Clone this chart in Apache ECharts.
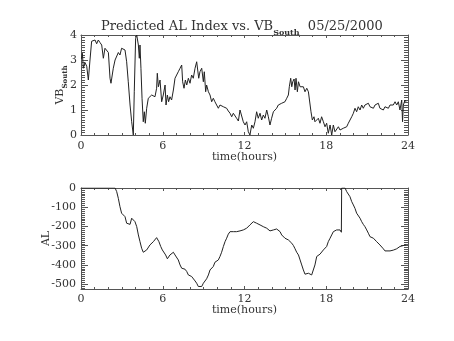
<!DOCTYPE html>
<html>
<head>
<meta charset="utf-8">
<script src="https://cdn.jsdelivr.net/npm/echarts@6/dist/echarts.min.js"></script>
<style>
html,body{margin:0;padding:0;background:#fff;}
#chart{width:454px;height:341px;}
</style>
</head>
<body>
<div id="chart"></div>
<script>
// ---- data ----
var xTicks = [0, 6, 12, 18, 24];
var vbTicks = [0, 1, 2, 3, 4];
var alTicks = [0, -100, -200, -300, -400, -500];

var vbHours = [0.03,0.10,0.17,0.29,0.42,0.54,0.66,0.78,0.91,1.03,1.15,1.27,1.39,1.52,1.64,1.76,1.88,2.01,2.13,2.20,2.37,2.50,2.62,2.74,2.86,2.98,3.11,3.23,3.35,3.47,3.60,3.72,3.84,3.91,4.01,4.09,4.21,4.28,4.33,4.40,4.48,4.57,4.65,4.72,4.82,4.94,5.06,5.19,5.31,5.43,5.55,5.60,5.68,5.80,5.92,6.04,6.17,6.24,6.34,6.43,6.53,6.65,6.78,6.90,7.02,7.14,7.27,7.39,7.46,7.56,7.66,7.76,7.88,8.00,8.12,8.24,8.37,8.49,8.56,8.64,8.73,8.86,8.98,9.05,9.15,9.22,9.35,9.47,9.59,9.71,9.83,9.96,10.08,10.20,10.32,10.45,10.57,10.69,10.81,10.94,11.06,11.18,11.30,11.42,11.55,11.67,11.79,11.91,12.04,12.16,12.28,12.40,12.53,12.65,12.77,12.89,13.01,13.14,13.26,13.38,13.50,13.63,13.75,13.87,13.99,14.12,14.36,14.48,14.61,14.73,14.85,14.97,15.10,15.22,15.29,15.39,15.47,15.54,15.64,15.71,15.78,15.88,15.96,16.08,16.20,16.32,16.44,16.57,16.69,16.81,16.88,16.98,17.10,17.17,17.30,17.42,17.54,17.66,17.79,17.91,18.03,18.15,18.28,18.40,18.52,18.64,18.76,18.89,19.01,19.13,19.25,19.38,19.50,19.62,19.74,19.87,19.99,20.11,20.23,20.35,20.48,20.60,20.72,20.84,20.97,21.09,21.21,21.33,21.46,21.58,21.70,21.82,21.94,22.07,22.19,22.31,22.43,22.56,22.68,22.80,22.92,23.05,23.17,23.29,23.41,23.54,23.60,23.66,23.78,23.85];
var vbValues = [3.05,3.27,2.67,2.9,2.75,2.2,3.0,3.75,3.7,3.8,3.65,3.8,3.7,3.6,3.07,3.47,3.5,3.3,2.27,2.07,2.67,3.0,3.07,3.3,3.2,3.47,3.53,3.4,2.93,2.13,1.2,0.53,0.0,1.73,3.87,4.0,3.6,3.07,3.6,2.67,1.47,0.53,0.93,0.47,1.07,1.47,1.4,1.6,1.67,1.53,1.87,2.47,1.93,2.2,1.33,1.6,2.0,1.2,1.6,1.33,1.53,1.4,1.8,2.27,2.33,2.53,2.67,2.8,2.13,1.87,2.2,2.0,2.27,2.07,2.4,2.27,2.67,2.93,3.0,2.27,2.53,2.67,2.13,2.53,1.73,2.0,1.73,1.6,1.33,1.47,1.33,1.27,1.07,1.2,1.27,1.13,1.2,1.07,0.96,0.87,0.73,0.87,0.8,0.67,0.56,1.0,0.93,0.53,0.4,0.53,0.13,0.0,0.4,0.27,0.53,0.93,0.67,0.87,0.6,0.8,0.67,1.0,0.73,0.4,0.67,0.93,1.07,1.2,1.13,1.27,1.2,1.33,1.47,1.6,1.93,2.27,1.93,2.13,2.24,1.8,2.27,1.73,2.13,1.93,1.87,1.93,1.73,1.87,1.73,1.67,0.93,0.6,0.73,0.53,0.6,0.67,0.47,0.73,0.53,0.33,0.47,0.07,0.4,0.0,0.4,0.13,0.07,0.33,0.2,0.13,0.27,0.2,0.33,0.47,0.53,0.73,0.87,1.07,0.93,1.13,1.0,1.2,1.07,1.2,1.13,1.27,1.13,1.2,1.07,1.2,1.13,1.27,1.07,1.13,1.0,1.13,1.2,1.07,1.2,1.27,1.2,1.33,1.2,1.33,1.0,1.4,0.53,1.2,1.4,1.33];

var alHours = [0,2.50,2.62,2.74,2.86,2.98,3.11,3.23,3.35,3.47,3.60,3.72,3.84,3.96,4.09,4.21,4.33,4.45,4.57,4.70,4.82,4.94,5.06,5.19,5.31,5.43,5.55,5.63,5.72,5.85,5.97,6.09,6.21,6.34,6.43,6.53,6.65,6.78,6.90,7.02,7.14,7.27,7.39,7.51,7.63,7.76,7.88,8.00,8.12,8.24,8.37,8.49,8.61,8.73,8.86,8.98,9.10,9.22,9.35,9.47,9.59,9.71,9.83,9.96,10.08,10.20,10.32,10.45,10.57,10.69,10.81,10.94,11.06,11.18,11.30,11.42,11.67,11.91,12.16,12.28,12.40,12.53,12.65,12.77,12.89,13.14,13.38,13.63,13.87,14.12,14.36,14.61,14.73,14.85,14.97,15.10,15.22,15.34,15.47,15.59,15.71,15.83,15.96,16.08,16.20,16.32,16.44,16.56,16.69,16.81,16.93,17.05,17.17,17.30,17.42,17.54,17.66,17.79,17.91,18.03,18.15,18.28,18.40,18.52,18.64,18.76,18.89,19.01,19.11,19.13,19.25,19.38,19.50,19.62,19.74,19.87,19.99,20.11,20.23,20.35,20.48,20.60,20.72,20.84,20.97,21.09,21.21,21.33,21.46,21.58,21.70,21.82,21.94,22.07,22.19,22.31,22.43,22.68,22.92,23.17,23.29,23.41,23.54,23.66,23.85];
var alValues = [0,0,-19,-54,-97,-131,-140,-149,-183,-192,-189,-157,-154,-175,-201,-244,-279,-313,-334,-330,-322,-313,-296,-287,-279,-270,-258,-256,-279,-304,-322,-330,-348,-368,-365,-348,-339,-334,-348,-356,-374,-400,-417,-420,-422,-434,-452,-457,-460,-469,-483,-495,-512,-522,-512,-495,-487,-472,-452,-426,-420,-408,-386,-379,-374,-356,-334,-304,-279,-261,-240,-227,-223,-227,-223,-227,-223,-218,-209,-206,-192,-183,-175,-171,-183,-192,-201,-209,-223,-218,-213,-227,-244,-253,-261,-261,-270,-275,-287,-299,-316,-334,-348,-374,-400,-426,-448,-452,-443,-448,-452,-443,-400,-356,-348,-344,-334,-322,-313,-304,-279,-261,-244,-227,-218,-218,-223,-218,-230,0,0,0,-19,-28,-45,-71,-88,-106,-131,-140,-157,-175,-189,-201,-218,-235,-253,-258,-261,-270,-279,-287,-296,-304,-316,-327,-327,-327,-323,-316,-310,-304,-301,-299,-296];

// minor tick positions (IDL style): every hour, every 0.1 VB, every 10 AL
var hourMinor = [];
for (var h = 0; h <= 24; h++) hourMinor.push(h);
var vbMinor = [];
for (var i = 0; i <= 40; i++) vbMinor.push(i / 10);
var alMinor = [];
for (var v = -520; v <= 0; v += 10) alMinor.push(v);

// ---- chart ----
var FONT = 'DejaVu Serif';
var AX = '#555';
var TXT = '#333';
var FS = 11;

function pairs(xs, ys) { return xs.map(function (x, i) { return [x, ys[i]]; }); }

function tickAxis(grid, pos, min, max, ticks, len, line, labels, extra) {
  var a = {
    type: 'value', gridIndex: grid, position: pos, min: min, max: max,
    axisLine: { show: line, onZero: false, lineStyle: { color: AX, width: 1 } },
    axisTick: { show: true, inside: true, length: len, customValues: ticks, lineStyle: { color: AX } },
    axisLabel: labels ? { show: true, customValues: ticks, fontFamily: FONT, fontSize: FS, color: TXT, margin: labels.margin }
                      : { show: false, customValues: ticks },
    splitLine: { show: false }
  };
  if (extra) for (var k in extra) a[k] = extra[k];
  return a;
}

var xName = function (gap) {
  return { name: 'time(hours)', nameLocation: 'middle', nameGap: gap, nameMoveOverlap: false,
           nameTextStyle: { fontFamily: FONT, fontSize: FS, color: TXT } };
};

var option = {
  animation: false,
  backgroundColor: '#fff',
  title: {
    text: '{m|Predicted AL Index vs. VB}{s|South}{m|  05/25/2000}',
    left: 96, top: 12,
    textStyle: {
      fontWeight: 'normal',
      rich: {
        m: { fontFamily: FONT, fontSize: 13, fontWeight: 'normal', color: TXT, lineHeight: 20, verticalAlign: 'middle' },
        s: { fontFamily: FONT, fontSize: 8, fontWeight: 'bold', color: TXT, lineHeight: 20, verticalAlign: 'bottom' }
      }
    }
  },
  grid: [
    { left: 81, top: 35, width: 327, height: 100 },
    { left: 81, top: 188, width: 327, height: 101 }
  ],
  xAxis: [
    // top panel
    tickAxis(0, 'bottom', 0, 24, xTicks, 3, true, { margin: 6 }, xName(17)),
    tickAxis(0, 'top', 0, 24, xTicks, 3, true, null),
    tickAxis(0, 'bottom', 0, 24, hourMinor, 2, false, null),
    tickAxis(0, 'top', 0, 24, hourMinor, 2, false, null),
    // bottom panel
    tickAxis(1, 'bottom', 0, 24, xTicks, 3, true, { margin: 5 }, xName(16)),
    tickAxis(1, 'top', 0, 24, xTicks, 3, true, null),
    tickAxis(1, 'bottom', 0, 24, hourMinor, 2, false, null),
    tickAxis(1, 'top', 0, 24, hourMinor, 2, false, null)
  ],
  yAxis: [
    // top panel (0..3)
    tickAxis(0, 'left', 0, 4, vbTicks, 7, true, { margin: 4 }, {
      name: '{m|VB}{s|South}', nameLocation: 'middle', nameGap: 12, nameRotate: 90, nameMoveOverlap: false,
      nameTextStyle: {
        rich: {
          m: { fontFamily: FONT, fontSize: FS, color: TXT, lineHeight: 18, verticalAlign: 'middle' },
          s: { fontFamily: FONT, fontSize: 7, fontWeight: 'bold', color: TXT, lineHeight: 18, verticalAlign: 'bottom' }
        }
      }
    }),
    tickAxis(0, 'right', 0, 4, vbTicks, 7, true, null),
    tickAxis(0, 'left', 0, 4, vbMinor, 4, false, null),
    tickAxis(0, 'right', 0, 4, vbMinor, 4, false, null),
    // bottom panel (4..7)
    tickAxis(1, 'left', -525, 0, alTicks, 7, true, { margin: 5 }, {
      name: 'AL', nameLocation: 'middle', nameGap: 29, nameRotate: 90, nameMoveOverlap: false,
      nameTextStyle: { fontFamily: FONT, fontSize: FS, color: TXT }
    }),
    tickAxis(1, 'right', -525, 0, alTicks, 7, true, null),
    tickAxis(1, 'left', -525, 0, alMinor, 4, false, null),
    tickAxis(1, 'right', -525, 0, alMinor, 4, false, null)
  ],
  series: [
    {
      type: 'line', xAxisIndex: 0, yAxisIndex: 0, data: pairs(vbHours, vbValues),
      showSymbol: false, symbol: 'none', lineStyle: { color: '#222', width: 1 }, clip: true
    },
    {
      type: 'line', xAxisIndex: 4, yAxisIndex: 4, data: pairs(alHours, alValues),
      showSymbol: false, symbol: 'none', lineStyle: { color: '#222', width: 1 }, clip: true
    }
  ]
};

var chart = echarts.init(document.getElementById('chart'), null, { renderer: 'canvas' });
chart.setOption(option);
</script>
</body>
</html>
